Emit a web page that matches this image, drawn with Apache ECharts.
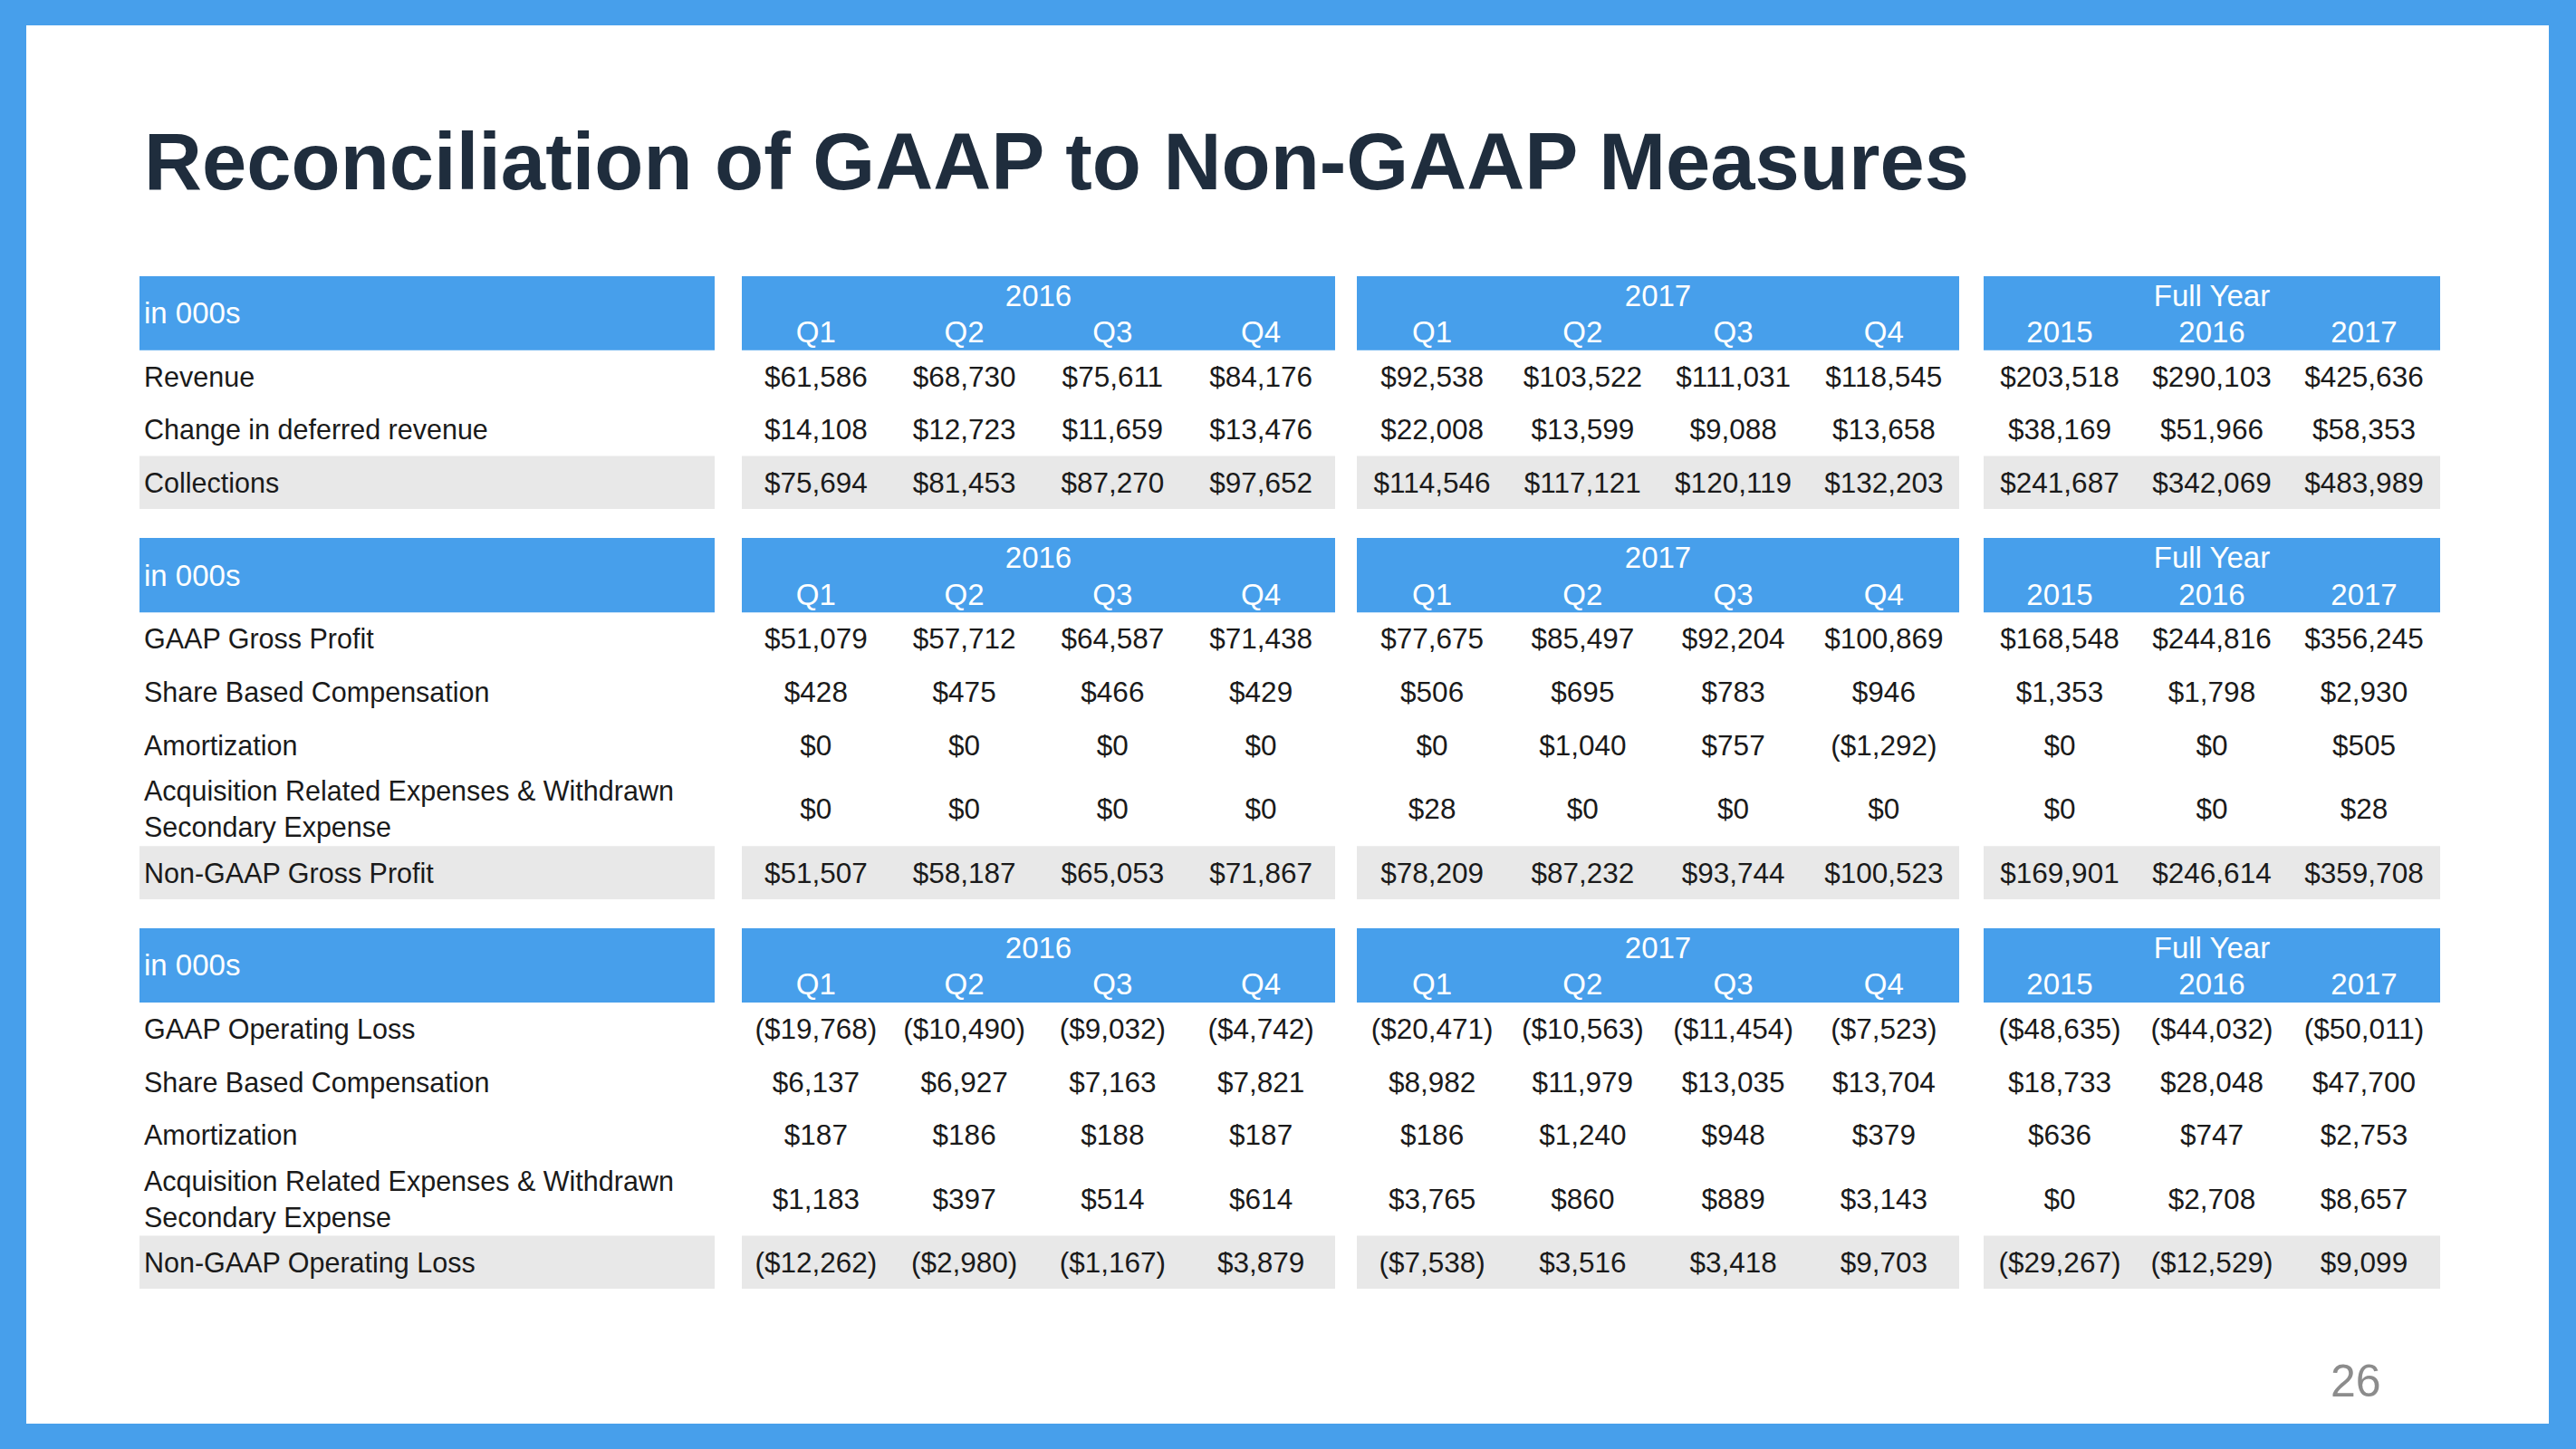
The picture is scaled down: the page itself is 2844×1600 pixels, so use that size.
<!DOCTYPE html>
<html>
<head>
<meta charset="utf-8">
<script src="https://cdn.jsdelivr.net/npm/echarts@6/dist/echarts.min.js"></script>
<style>
html,body{margin:0;padding:0;background:#479FEB;}
#c{width:2844px;height:1600px;}
</style>
</head>
<body>
<div id="c"></div>
<script>
// ---------- text / categories ----------
const titleText = 'Reconciliation of GAAP to Non-GAAP Measures';
const pageNumber = '26';
const unitLabel = 'in 000s';
const groupTitles = ['2016', '2017', 'Full Year'];
const quarterCols = ['Q1', 'Q2', 'Q3', 'Q4'];
const yearCols = ['2015', '2016', '2017'];

// ---------- Table 1 ----------
const t1Labels = ['Revenue', 'Change in deferred revenue', 'Collections'];
const revenue2016 = [61586, 68730, 75611, 84176];
const revenue2017 = [92538, 103522, 111031, 118545];
const revenueFY = [203518, 290103, 425636];
const deferred2016 = [14108, 12723, 11659, 13476];
const deferred2017 = [22008, 13599, 9088, 13658];
const deferredFY = [38169, 51966, 58353];
const collections2016 = [75694, 81453, 87270, 97652];
const collections2017 = [114546, 117121, 120119, 132203];
const collectionsFY = [241687, 342069, 483989];

// ---------- Table 2 ----------
const t2Labels = ['GAAP Gross Profit', 'Share Based Compensation', 'Amortization',
  'Acquisition Related Expenses & Withdrawn\nSecondary Expense', 'Non-GAAP Gross Profit'];
const gp2016 = [51079, 57712, 64587, 71438];
const gp2017 = [77675, 85497, 92204, 100869];
const gpFY = [168548, 244816, 356245];
const gpSbc2016 = [428, 475, 466, 429];
const gpSbc2017 = [506, 695, 783, 946];
const gpSbcFY = [1353, 1798, 2930];
const gpAmort2016 = [0, 0, 0, 0];
const gpAmort2017 = [0, 1040, 757, -1292];
const gpAmortFY = [0, 0, 505];
const gpAcq2016 = [0, 0, 0, 0];
const gpAcq2017 = [28, 0, 0, 0];
const gpAcqFY = [0, 0, 28];
const ngGp2016 = [51507, 58187, 65053, 71867];
const ngGp2017 = [78209, 87232, 93744, 100523];
const ngGpFY = [169901, 246614, 359708];

// ---------- Table 3 ----------
const t3Labels = ['GAAP Operating Loss', 'Share Based Compensation', 'Amortization',
  'Acquisition Related Expenses & Withdrawn\nSecondary Expense', 'Non-GAAP Operating Loss'];
const ol2016 = [-19768, -10490, -9032, -4742];
const ol2017 = [-20471, -10563, -11454, -7523];
const olFY = [-48635, -44032, -50011];
const olSbc2016 = [6137, 6927, 7163, 7821];
const olSbc2017 = [8982, 11979, 13035, 13704];
const olSbcFY = [18733, 28048, 47700];
const olAmort2016 = [187, 186, 188, 187];
const olAmort2017 = [186, 1240, 948, 379];
const olAmortFY = [636, 747, 2753];
const olAcq2016 = [1183, 397, 514, 614];
const olAcq2017 = [3765, 860, 889, 3143];
const olAcqFY = [0, 2708, 8657];
const ngOl2016 = [-12262, -2980, -1167, 3879];
const ngOl2017 = [-7538, 3516, 3418, 9703];
const ngOlFY = [-29267, -12529, 9099];

// ---------- assembly ----------
const tables = [
  { labels: t1Labels, rows: [
      [revenue2016, revenue2017, revenueFY],
      [deferred2016, deferred2017, deferredFY],
      [collections2016, collections2017, collectionsFY]] },
  { labels: t2Labels, rows: [
      [gp2016, gp2017, gpFY],
      [gpSbc2016, gpSbc2017, gpSbcFY],
      [gpAmort2016, gpAmort2017, gpAmortFY],
      [gpAcq2016, gpAcq2017, gpAcqFY],
      [ngGp2016, ngGp2017, ngGpFY]] },
  { labels: t3Labels, rows: [
      [ol2016, ol2017, olFY],
      [olSbc2016, olSbc2017, olSbcFY],
      [olAmort2016, olAmort2017, olAmortFY],
      [olAcq2016, olAcq2017, olAcqFY],
      [ngOl2016, ngOl2017, ngOlFY]] }
];

// ---------- layout (styles / positions) ----------
const BLUE = '#479FEB';
const GREY = '#E8E8E8';
const TEXT = '#1a1a1a';
const FAM = '"Liberation Sans", Arial, Helvetica, sans-serif';
const HEAD_FONT = '33px ' + FAM;
const LABEL_FONT = '30.5px ' + FAM;
const VALUE_FONT = '31.5px ' + FAM;
const BLOCKS = [
  { left: 154, width: 635 },
  { left: 819, width: 655 },
  { left: 1498, width: 665 },
  { left: 2190, width: 504 }
];
const TABLE_Y = [
  { top: 305, height: 257 },
  { top: 594, height: 399 },
  { top: 1025, height: 398 }
];
const HEADER_UNITS = 1.4;
const TWO_LINE_UNITS = 1.4;

function fmt(v) {
  const s = '$' + Math.abs(v).toLocaleString('en-US');
  return v < 0 ? '(' + s + ')' : s;
}

function makeRender(data) {
  return function (params, api) {
    const d = data[params.dataIndex];
    const ci = api.value(0), y0 = api.value(1), y1 = api.value(2);
    const a = api.coord([ci, y0]);
    const b = api.coord([ci, y1]);
    const bw = api.size([1, 0])[0];
    const cs = params.coordSys;
    const top = a[1], h = b[1] - a[1];
    const x0 = a[0] - bw / 2;
    const children = [];
    if (d.kind === 'group') {
      return { type: 'text', z2: 10, style: { text: d.text, x: cs.x + cs.width / 2, y: top + h * 0.26,
        fill: '#fff', font: HEAD_FONT, align: 'center', verticalAlign: 'middle' } };
    }
    const isHead = d.kind === 'head' || d.kind === 'headLabel';
    const isTotal = d.kind === 'total' || d.kind === 'labelTotal';
    if ((isHead || isTotal) && ci === 0) {
      children.push({ type: 'rect', z2: 1, shape: { x: cs.x, y: top, width: cs.width, height: h },
        style: { fill: isHead ? BLUE : GREY } });
    }
    if (d.kind === 'headLabel') {
      children.push({ type: 'text', z2: 10, style: { text: d.text, x: x0 + 5, y: top + h * 0.5,
        fill: '#fff', font: HEAD_FONT, align: 'left', verticalAlign: 'middle' } });
    } else if (d.kind === 'head') {
      children.push({ type: 'text', z2: 10, style: { text: d.text, x: a[0], y: top + h * 0.755,
        fill: '#fff', font: HEAD_FONT, align: 'center', verticalAlign: 'middle' } });
    } else if (d.kind === 'label' || d.kind === 'labelTotal') {
      children.push({ type: 'text', z2: 10, style: { text: d.text, x: x0 + 5, y: top + h / 2,
        fill: TEXT, font: LABEL_FONT, lineHeight: 40, align: 'left', verticalAlign: 'middle' } });
    } else {
      children.push({ type: 'text', z2: 10, style: { text: d.text, x: a[0], y: top + h / 2,
        fill: TEXT, font: VALUE_FONT, align: 'center', verticalAlign: 'middle' } });
    }
    return { type: 'group', children: children };
  };
}

const grids = [], xAxes = [], yAxes = [], series = [];
tables.forEach(function (tb, ti) {
  const units = [HEADER_UNITS].concat(tb.labels.map(function (l) { return l.indexOf('\n') >= 0 ? TWO_LINE_UNITS : 1; }));
  const starts = [];
  let acc = 0;
  units.forEach(function (u) { starts.push(acc); acc += u; });
  const total = acc;
  BLOCKS.forEach(function (bl, bi) {
    const gi = grids.length;
    grids.push({ left: bl.left, top: TABLE_Y[ti].top, width: bl.width, height: TABLE_Y[ti].height });
    const cols = bi === 0 ? [unitLabel] : (bi === 3 ? yearCols : quarterCols);
    xAxes.push({ type: 'category', gridIndex: gi, data: cols, show: false });
    yAxes.push({ type: 'value', gridIndex: gi, min: 0, max: total, inverse: true, show: false });
    const data = [];
    cols.forEach(function (c, ci) {
      data.push({ value: [ci, starts[0], starts[0] + units[0]], kind: bi === 0 ? 'headLabel' : 'head', text: c });
    });
    if (bi > 0) data.push({ value: [0, starts[0], starts[0] + units[0]], kind: 'group', text: groupTitles[bi - 1] });
    tb.labels.forEach(function (lab, ri) {
      const r = ri + 1, y0 = starts[r], y1 = y0 + units[r];
      const isTotal = ri === tb.labels.length - 1;
      if (bi === 0) {
        data.push({ value: [0, y0, y1], kind: isTotal ? 'labelTotal' : 'label', text: lab });
      } else {
        tb.rows[ri][bi - 1].forEach(function (v, ci) {
          data.push({ value: [ci, y0, y1], kind: isTotal ? 'total' : 'cell', text: fmt(v) });
        });
      }
    });
    series.push({ type: 'custom', xAxisIndex: gi, yAxisIndex: gi, renderItem: makeRender(data),
      data: data, silent: true, animation: false, clip: false, z: 5 });
  });
});

const chart = echarts.init(document.getElementById('c'), null, { renderer: 'svg', width: 2844, height: 1600 });
chart.setOption({
  backgroundColor: BLUE,
  animation: false,
  graphic: { elements: [
    { type: 'rect', z: 0, silent: true, shape: { x: 29, y: 28, width: 2785, height: 1544 }, style: { fill: '#ffffff' } },
    { type: 'text', z: 10, silent: true, style: { text: titleText, x: 159, y: 178.5, fill: '#1F2D3D',
      font: 'bold 88.6px ' + FAM, align: 'left', verticalAlign: 'middle' } },
    { type: 'text', z: 10, silent: true, style: { text: pageNumber, x: 2573, y: 1525, fill: '#8C8C8C',
      font: '50px ' + FAM, align: 'left', verticalAlign: 'middle' } }
  ] },
  grid: grids,
  xAxis: xAxes,
  yAxis: yAxes,
  series: series
});
</script>
</body>
</html>
